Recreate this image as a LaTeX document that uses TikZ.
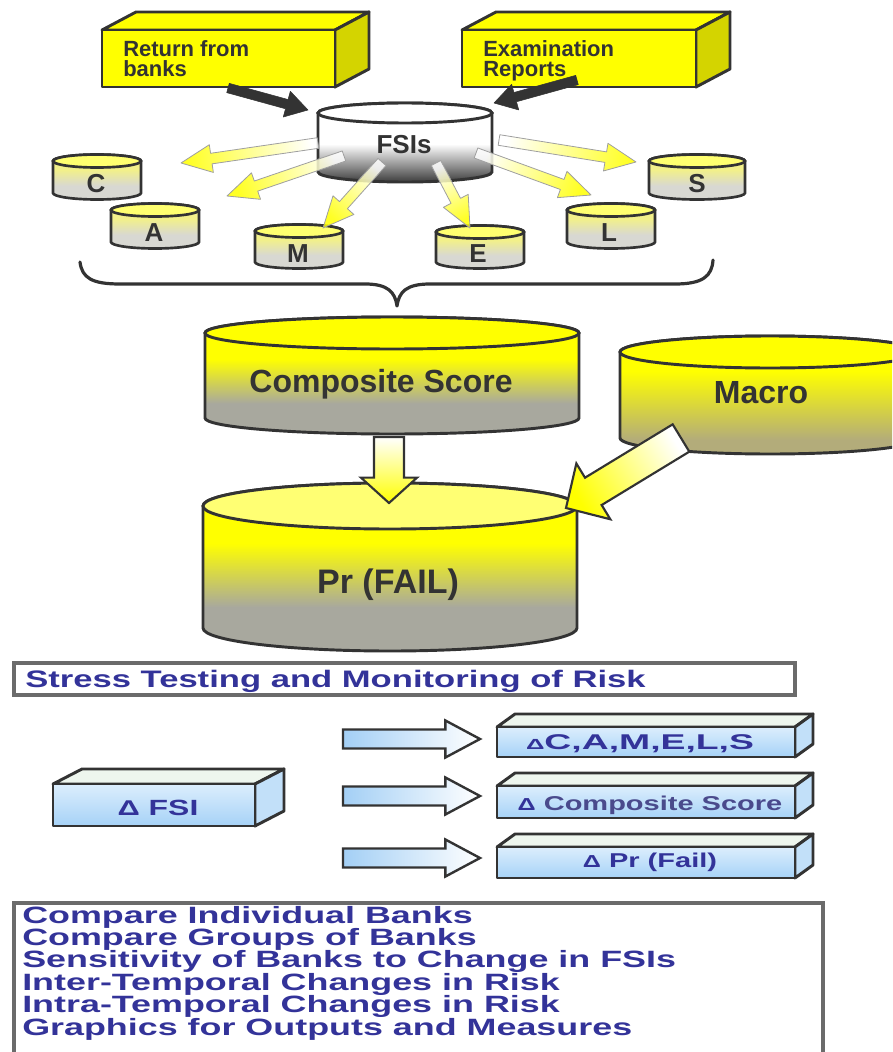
\documentclass[tikz,border=0pt]{standalone}
\usepackage{fontspec}
\setmainfont{Liberation Sans}
\newfontfamily\widefont[FakeStretch=1.45]{Liberation Sans}
\newfontfamily\listfont[FakeStretch=1.52]{Liberation Sans}
\newfontfamily\xwidefont[FakeStretch=1.75]{Liberation Sans}
\usetikzlibrary{calc}

\definecolor{ink}{HTML}{333333}
\definecolor{navy}{HTML}{333399}
\definecolor{navysoft}{HTML}{4A4A8C}
\definecolor{framegray}{HTML}{6B6B6B}
\definecolor{yel}{HTML}{FFFF00}
\definecolor{yelside}{HTML}{D4D400}
\definecolor{cylgray}{HTML}{A8A89E}
\definecolor{macgray}{HTML}{B3AC7A}
\definecolor{smalltop}{HTML}{FFFF70}
\definecolor{smallyel}{HTML}{F2F08A}
\definecolor{smallgray}{HTML}{D8D8D2}
\definecolor{fsidark}{HTML}{4D4D4D}
\definecolor{fsimid}{HTML}{A6A6A6}
\definecolor{bluehi}{HTML}{DCEEFD}
\definecolor{bluelo}{HTML}{A6D2F7}
\definecolor{bluetopface}{HTML}{EEF6EE}
\definecolor{blueside}{HTML}{C2E0F9}
\definecolor{arrowblue}{HTML}{A3CFF5}

% vertical body shadings of the cylinders (path box covers 25bp..75bp)
\pgfdeclareverticalshading{yelgray}{100bp}{color(0bp)=(cylgray); color(38bp)=(cylgray); color(57bp)=(yel); color(100bp)=(yel)}
\pgfdeclareverticalshading{yelkhaki}{100bp}{color(0bp)=(macgray); color(31bp)=(macgray); color(60bp)=(yel); color(100bp)=(yel)}
\pgfdeclareverticalshading{smallcyl}{100bp}{color(0bp)=(smallgray); color(40bp)=(smallgray); color(58bp)=(smallyel); color(100bp)=(smallyel)}
\pgfdeclareverticalshading{fsibody}{100bp}{color(0bp)=(fsidark); color(27bp)=(fsidark); color(38bp)=(fsimid); color(49bp)=(white); color(100bp)=(white)}

% cylinder: style, cx, top cy, rx, ry, side height, body shading, lid fill
\newcommand\cyl[8]{%
  \path[#1, shade, shading=#7, shading angle=0] ({#2-#4},#3) -- ++(0,#6)
    arc[start angle=180, end angle=0, x radius=#4, y radius=#5] -- ++(0,-#6)
    arc[start angle=0, end angle=-180, x radius=#4, y radius=#5] -- cycle;
  \path[#1, fill=#8] (#2,#3) ellipse[x radius=#4, y radius=#5];
}
% 3-D slab: style prefix, x1, y1, x2, y2, depth dx, depth dy
\newcommand\slab[7]{%
  \path[#1 top] (#2,#3) -- ++(#6,-#7) -- ({#4+#6},{#3-#7}) -- (#4,#3) -- cycle;
  \path[#1 side] (#4,#3) -- ++(#6,-#7) -- ({#4+#6},{#5-#7}) -- (#4,#5) -- cycle;
  \path[#1 front] (#2,#3) rectangle (#4,#5);
}
% block arrow: style, name, tail, tip, shaft half width, head half width, head length
\newcommand\blockarrow[7]{%
  \coordinate (#2n) at ($(#4)!#7!(#3)$);
  \path[#1] ($(#3)!#5!90:(#4)$) -- ($(#2n)!#5!-90:(#3)$) -- ($(#2n)!#6!-90:(#3)$)
    -- (#4) -- ($(#2n)!#6!90:(#3)$) -- ($(#2n)!#5!90:(#3)$) -- ($(#3)!#5!-90:(#4)$) -- cycle;
}
% small bold delta in front of the stress-test outputs
\newcommand\delt[1]{{\fontsize{#1}{#1}\selectfont Δ}}

\begin{document}
\begin{tikzpicture}[x=0.75pt, y=-0.75pt,
  bigcyl/.style={draw=ink, line width=2.2pt},
  smallcyl line/.style={draw=ink, line width=2pt},
  yel top/.style={draw=ink, line width=2.2pt, line join=round, fill=yel},
  yel side/.style={draw=ink, line width=2.2pt, line join=round, fill=yelside},
  yel front/.style={draw=ink, line width=2.2pt, line join=round, fill=yel},
  blue top/.style={draw=ink, line width=2.2pt, line join=round, fill=bluetopface},
  blue side/.style={draw=ink, line width=2.2pt, line join=round, fill=blueside},
  blue front/.style={draw=ink, line width=2.2pt, line join=round, top color=bluehi, bottom color=bluelo},
  darkarrow/.style={fill=ink, draw=ink, line width=0.4pt, line join=round},
  fsiarrow/.style={draw=gray!75, line width=0.6pt, line join=round, top color=yel, bottom color=white, fill opacity=0.85},
  bigarrow/.style={draw=ink, line width=1.6pt, line join=miter, top color=yel, bottom color=white},
  bluearrow/.style={draw=ink, line width=1.8pt, line join=miter, top color=white, bottom color=arrowblue},
  cyltext/.style={text=ink, inner sep=0pt},
  lettertext/.style={text=ink, inner sep=0pt, anchor=base, font=\fontsize{19.5}{19.5}\selectfont\bfseries},
  boxtext/.style={text=ink, inner sep=0pt, font=\fontsize{16.5}{16.5}\selectfont\bfseries},
  bluetext/.style={text=navy, inner sep=0pt},
  listline/.style={text=navy, inner sep=0pt, anchor=base west, font=\listfont\fontsize{17.7}{17.7}\selectfont\bfseries},
  brace line/.style={draw=ink, line width=2.4pt, line cap=round, line join=round},
  frame/.style={draw=framegray, line width=2.4pt}]
\useasboundingbox (0,0) rectangle (892,1052);
\clip (0,0) rectangle (892,1052);

% ---------- data sources ----------
\slab{yel}{102}{30}{335}{87}{34}{18}
\slab{yel}{462}{30}{696}{87}{34}{18}
\node[boxtext, anchor=base west] (ret1) at (123,57) {Return from};
\node[boxtext, anchor=base west] (ret2) at (123,77) {banks};
\node[boxtext, anchor=base west] (exa1) at (483,57) {Examination};
\node[boxtext, anchor=base west] (exa2) at (483,77) {Reports};

% ---------- FSIs store ----------
\cyl{bigcyl}{405}{113}{87}{10}{59}{fsibody}{white}
\node[cyltext, anchor=base, font=\fontsize{19.5}{19.5}\selectfont\bfseries] (fsis) at (404,153) {FSIs};

\coordinate (retout) at (228,88);
\coordinate (retin) at (308,110);
\coordinate (exaout) at (577,80);
\coordinate (exain) at (494,103);
\blockarrow{darkarrow}{aret}{retout}{retin}{3.6pt}{10pt}{16.5pt}
\blockarrow{darkarrow}{aexa}{exaout}{exain}{3.6pt}{10pt}{16.5pt}

% ---------- CAMELS components ----------
\cyl{smallcyl line}{97}{161}{44}{6.5}{32}{smallcyl}{smalltop}
\cyl{smallcyl line}{155}{210}{44}{6.5}{32}{smallcyl}{smalltop}
\cyl{smallcyl line}{299}{231}{44}{6.5}{31}{smallcyl}{smalltop}
\cyl{smallcyl line}{480}{232}{44}{6.5}{30}{smallcyl}{smalltop}
\cyl{smallcyl line}{611}{210}{44}{6.5}{32}{smallcyl}{smalltop}
\cyl{smallcyl line}{697}{161}{48}{6.5}{32}{smallcyl}{smalltop}
\node[lettertext] (cC) at (96,192) {C};
\node[lettertext] (cA) at (154,241) {A};
\node[lettertext] (cM) at (298,262) {M};
\node[lettertext] (cE) at (478,262) {E};
\node[lettertext] (cL) at (609,241) {L};
\node[lettertext] (cS) at (697,192) {S};

\coordinate (fC) at (318,143);  \coordinate (tC) at (181,163);
\coordinate (fA) at (344,156);  \coordinate (tA) at (227,196);
\coordinate (fM) at (382,162);  \coordinate (tM) at (323,228);
\coordinate (fE) at (436,163);  \coordinate (tE) at (470,228);
\coordinate (fL) at (476,153);  \coordinate (tL) at (591,195);
\coordinate (fS) at (499,140);  \coordinate (tS) at (636,162);
\blockarrow{fsiarrow, shading angle=98.4}{aC}{fC}{tC}{4pt}{10.5pt}{23pt}
\blockarrow{fsiarrow, shading angle=108.6}{aA}{fA}{tA}{4pt}{10.5pt}{23pt}
\blockarrow{fsiarrow, shading angle=138.2}{aM}{fM}{tM}{4pt}{10.5pt}{23pt}
\blockarrow{fsiarrow, shading angle=-152.4}{aE}{fE}{tE}{4pt}{10.5pt}{23pt}
\blockarrow{fsiarrow, shading angle=-110.1}{aL}{fL}{tL}{4pt}{10.5pt}{23pt}
\blockarrow{fsiarrow, shading angle=-99.1}{aS}{fS}{tS}{4pt}{10.5pt}{23pt}

% ---------- brace ----------
\coordinate (brL) at (80,262);
\coordinate (brR) at (713,260);
\path[brace line] (brL) .. controls (82,278) and (92,284) .. (120,284) -- (365,284)
  .. controls (388,284) and (395,292) .. (397,306)
  .. controls (399,292) and (406,284) .. (430,284) -- (675,284)
  .. controls (703,284) and (712,276) .. (brR);

% ---------- scoring ----------
\cyl{bigcyl}{392}{333}{187}{16}{85}{yelgray}{yel}
\node[cyltext, anchor=base, font=\fontsize{24}{24}\selectfont\bfseries] (comp) at (381,392) {Composite Score};
\cyl{bigcyl}{770}{352}{150}{16}{86}{yelkhaki}{yel}
\node[cyltext, anchor=base, font=\fontsize{24}{24}\selectfont\bfseries] (macro) at (761,403) {Macro};
\cyl{bigcyl}{390}{506}{187}{23}{122}{yelgray}{yel!55!white}
\node[cyltext, anchor=base, font=\fontsize{25.5}{25.5}\selectfont\bfseries] (prfail) at (388,593) {Pr (FAIL)};

\coordinate (compout) at (389,437);
\coordinate (prin) at (389,503);
\blockarrow{bigarrow, shading angle=-180}{acomp}{compout}{prin}{11.25pt}{21pt}{19pt}
\coordinate (macout) at (681,438);
\coordinate (macin) at (566,508);
\blockarrow{bigarrow, shading angle=121.3}{amac}{macout}{macin}{12pt}{24.5pt}{24pt}

% ---------- stress testing ----------
\path[frame] (14,663) rectangle (795,695);
\node[bluetext, anchor=base west, font=\widefont\fontsize{17.9}{17.9}\selectfont\bfseries] (stress) at (25,687) {Stress Testing and Monitoring of Risk};

\slab{blue}{53}{784}{255}{826}{29}{15}
\node[bluetext, anchor=base, font=\widefont\fontsize{16.5}{16.5}\selectfont\bfseries] (dfsi) at (158,815) {\delt{16} FSI};

\slab{blue}{497}{727}{795}{757}{18}{13}
\slab{blue}{497}{786}{795}{818}{18}{13}
\slab{blue}{497}{847}{795}{878}{18}{13}
\node[bluetext, anchor=base, font=\xwidefont\fontsize{16}{16}\selectfont\bfseries] (dcamels) at (640,749) {\delt{11}C,A,M,E,L,S};
\node[text=navysoft, inner sep=0pt, anchor=base, font=\widefont\fontsize{15}{15}\selectfont\bfseries] (dcomp) at (650,810) {{\color{navy}\delt{13}} Composite Score};
\node[bluetext, anchor=base, font=\widefont\fontsize{15}{15}\selectfont\bfseries] (dpr) at (650,867) {\delt{13} Pr (Fail)};

\coordinate (b1out) at (343,739); \coordinate (b1in) at (480,739);
\coordinate (b2out) at (343,796); \coordinate (b2in) at (480,796);
\coordinate (b3out) at (343,858); \coordinate (b3in) at (480,858);
\blockarrow{bluearrow, shading angle=-90}{ab1}{b1out}{b1in}{7.1pt}{13.9pt}{26pt}
\blockarrow{bluearrow, shading angle=-90}{ab2}{b2out}{b2in}{7.1pt}{13.9pt}{26pt}
\blockarrow{bluearrow, shading angle=-90}{ab3}{b3out}{b3in}{7.1pt}{13.9pt}{26pt}

% ---------- uses ----------
\path[frame] (14,1070) -- (14,903) -- (823,903) -- (823,1070);
\node[listline] (u1) at (22,923) {Compare Individual Banks};
\node[listline] (u2) at (22,945.4) {Compare Groups of Banks};
\node[listline] (u3) at (22,967.8) {Sensitivity of Banks to Change in FSIs};
\node[listline] (u4) at (22,990.2) {Inter-Temporal Changes in Risk};
\node[listline] (u5) at (22,1012.6) {Intra-Temporal Changes in Risk};
\node[listline] (u6) at (22,1035) {Graphics for Outputs and Measures};
\end{tikzpicture}
\end{document}
